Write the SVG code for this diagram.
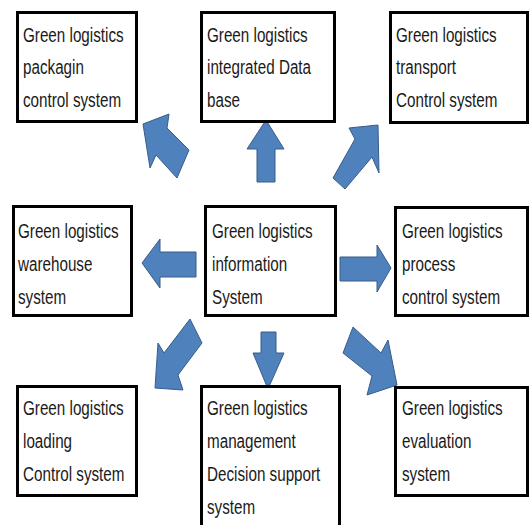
<svg xmlns="http://www.w3.org/2000/svg" width="530" height="525" viewBox="0 0 530 525">
  <style>
    .box { fill: #ffffff; stroke: #000000; stroke-width: 3; }
    .lbl { font-family: "Liberation Sans", Arial, sans-serif; font-size: 21px; fill: #1a1a1a; }
    .arrow { fill: #4f81bd; stroke: #385d8a; stroke-width: 1; stroke-linejoin: miter; }
  </style>
  <rect width="530" height="525" fill="#ffffff"/>

  <!-- block arrows radiating from the central information system -->
  <g id="connectors">
    <polygon class="arrow" points="143,124 169,114 167,128 189,150 177,178 156,155 150,168"/>
    <polygon class="arrow" points="266,120 284,149 275,149 275,182 257,182 257,149 247,149"/>
    <polygon class="arrow" points="378,125 379,173 372,157 345,189 333,178 355,139 349,128"/>
    <polygon class="arrow" points="142,263 160,239 160,252 196,252 196,277 160,277 160,288"/>
    <polygon class="arrow" points="391,268 377,292 377,281 340,281 340,257 377,257 377,245"/>
    <polygon class="arrow" points="155,388 158,343 164,353 190,319 202,343 178,375 183,390"/>
    <polygon class="arrow" points="268,389 253,353 261,353 261,332 276,332 276,353 284,353"/>
    <polygon class="arrow" points="397,385 367,395 372,376 343,353 353,327 381,353 388,340"/>
  </g>

  <g id="packaging">
    <rect class="box" x="17.5" y="12.5" width="119" height="109"/>
    <text class="lbl" transform="translate(23,41.5) scale(0.725 1)"><tspan x="0" y="0">Green logistics</tspan><tspan x="0" y="33">packagin</tspan><tspan x="0" y="66">control system</tspan></text>
  </g>
  <g id="database">
    <rect class="box" x="201.5" y="12.5" width="133" height="109"/>
    <text class="lbl" transform="translate(207,41.5) scale(0.725 1)"><tspan x="0" y="0">Green logistics</tspan><tspan x="0" y="33">integrated Data</tspan><tspan x="0" y="66">base</tspan></text>
  </g>
  <g id="transport">
    <rect class="box" x="390.5" y="12.5" width="137" height="110"/>
    <text class="lbl" transform="translate(396,41.5) scale(0.725 1)"><tspan x="0" y="0">Green logistics</tspan><tspan x="0" y="33">transport</tspan><tspan x="0" y="66">Control system</tspan></text>
  </g>
  <g id="warehouse">
    <rect class="box" x="13.5" y="206.5" width="118" height="109"/>
    <text class="lbl" transform="translate(18,238) scale(0.725 1)"><tspan x="0" y="0">Green logistics</tspan><tspan x="0" y="33">warehouse</tspan><tspan x="0" y="66">system</tspan></text>
  </g>
  <g id="information">
    <rect class="box" x="205.5" y="206.5" width="130" height="109"/>
    <text class="lbl" transform="translate(212,238) scale(0.725 1)"><tspan x="0" y="0">Green logistics</tspan><tspan x="0" y="33">information</tspan><tspan x="0" y="66">System</tspan></text>
  </g>
  <g id="process">
    <rect class="box" x="395.5" y="207.5" width="132" height="108"/>
    <text class="lbl" transform="translate(402,238) scale(0.725 1)"><tspan x="0" y="0">Green logistics</tspan><tspan x="0" y="33">process</tspan><tspan x="0" y="66">control system</tspan></text>
  </g>
  <g id="loading">
    <rect class="box" x="17.5" y="386.5" width="119" height="109"/>
    <text class="lbl" transform="translate(23,415) scale(0.725 1)"><tspan x="0" y="0">Green logistics</tspan><tspan x="0" y="33">loading</tspan><tspan x="0" y="66">Control system</tspan></text>
  </g>
  <g id="decision">
    <rect class="box" x="201.5" y="386.5" width="138" height="150"/>
    <text class="lbl" transform="translate(207,415) scale(0.725 1)"><tspan x="0" y="0">Green logistics</tspan><tspan x="0" y="33">management</tspan><tspan x="0" y="66">Decision support</tspan><tspan x="0" y="99">system</tspan></text>
  </g>
  <g id="evaluation">
    <rect class="box" x="395.5" y="387.5" width="132" height="108"/>
    <text class="lbl" transform="translate(402,415) scale(0.725 1)"><tspan x="0" y="0">Green logistics</tspan><tspan x="0" y="33">evaluation</tspan><tspan x="0" y="66">system</tspan></text>
  </g>
</svg>
